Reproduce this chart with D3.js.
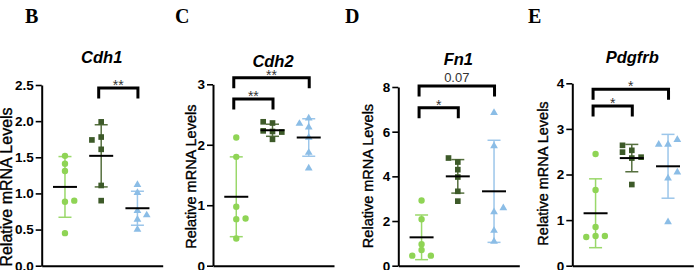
<!DOCTYPE html>
<html>
<head>
<meta charset="utf-8">
<title>Relative mRNA Levels</title>
<script src="https://d3js.org/d3.v7.min.js"></script>
<style>
  body { margin: 0; background: #fff; }
  svg { display: block; }
  text { font-family: "Liberation Sans", Arial, sans-serif; }
</style>
</head>
<body>
<svg width="694" height="270"></svg>
<script>
// ---- data ----
const panelLetters = ["B", "C", "D", "E"];
const genes = ["Cdh1", "Cdh2", "Fn1", "Pdgfrb"];
const groups = ["g1", "g2", "g3"];
const yMax = [2.5, 3, 8, 4];
const yTickStep = [0.5, 1, 2, 1];
const yTickFormat = [".1f", "d", "d", "d"];

// points per group (light green, dark green, light blue)
const cdh1Values = [[1.52, 1.41, 1.31, 0.885, 0.90, 0.45], [1.99, 1.78, 1.74, 1.61, 1.11, 0.90], [1.12, 1.01, 0.76, 0.70, 0.64, 0.50]];
const cdh2Values = [[2.12, 1.80, 0.975, 0.77, 0.78, 0.45], [2.38, 2.36, 2.23, 2.22, 2.21, 2.09], [2.35, 2.44, 2.29, 2.12, 1.87, 1.61]];
const fn1Values = [[2.92, 2.08, 0.96, 0.70, 0.45, 0.45], [4.82, 4.64, 4.30, 3.97, 3.33, 2.89], [6.85, 5.36, 2.58, 2.40, 1.57, 1.08]];
const pdgfrbValues = [[2.45, 1.66, 0.85, 0.65, 0.63, 0.65], [2.64, 2.49, 2.53, 2.36, 2.38, 1.78], [2.66, 2.66, 2.76, 1.92, 2.05, 0.96]];

// scatter column of each point (-1 left, 0 centre, 1 right)
const cdh1Cols = [[0, 0, 0, 0, 1, 0], [0, 0, -1, 0, 0, 0], [0, 0, 0, 1, 0, 0]];
const cdh2Cols = [[0, 0, 0, 0, 1, 0], [-1, 0, -1, 0, 1, 0], [-1, 0, 0, 0, 0, 0]];
const fn1Cols = [[0, 0, 0, 0, -1, 1], [-1, 0, 0, 0, 0, 0], [0, 0, 1, 0, 0, 0]];
const pdgfrbCols = [[0, 0, 0, 0, -1, 1], [-1, -1, 0, 0, 1, 0], [-1, 0, 1, 0, 1, 0]];

// mean and SD
const cdh1Mean = [1.09, 1.52, 0.795], cdh1Sd = [0.42, 0.43, 0.235];
const cdh2Mean = [1.14, 2.24, 2.12], cdh2Sd = [0.66, 0.10, 0.31];
const fn1Mean = [1.27, 4.0, 3.33], fn1Sd = [1.0, 0.75, 2.285];
const pdgfrbMean = [1.15, 2.36, 2.18], pdgfrbSd = [0.755, 0.30, 0.70];

// significance brackets: [from group, to group, height, label]
const cdh1Sig = [[1, 2, 2.46, "**"]];
const cdh2Sig = [[0, 1, 2.755, "**"], [0, 2, 3.11, "**"]];
const fn1Sig = [[0, 1, 7.07, "*"], [0, 2, 8.04, "0.07"]];
const pdgfrbSig = [[0, 1, 3.50, "*"], [0, 2, 3.87, "*"]];

const allValues = [cdh1Values, cdh2Values, fn1Values, pdgfrbValues];
const allCols = [cdh1Cols, cdh2Cols, fn1Cols, pdgfrbCols];
const allMean = [cdh1Mean, cdh2Mean, fn1Mean, pdgfrbMean];
const allSd = [cdh1Sd, cdh2Sd, fn1Sd, pdgfrbSd];
const allSig = [cdh1Sig, cdh2Sig, fn1Sig, pdgfrbSig];

// ---- layout ----
const axisLeft = [41.7, 213, 398.3, 572.3];
const axisTop = [85, 84.3, 87, 83.3];
const axisBottom = 265.7;
const plotW = 121;
const letterX = [25, 175, 345, 528];
const titleY = [62.7, 66.5, 65, 63.3];
const ylabX = [11.7, 195.5, 373.3, 548.3];
const ylabY = [187, 176.7, 176, 173.5];
const ylabSize = [16, 14.5, 14.5, 14.5];

const fillColors = ["#8fd455", "#3d5a29", "#8bbde6"];
const lineColors = ["#9ad86a", "#56703f", "#9cc6ea"];
const symbols = [d3.symbolCircle, d3.symbolSquare, d3.symbolTriangle];
const symSize = [32, 32, 26];
const jitter = 9.3;

const svg = d3.select("svg");

panelLetters.forEach((letter, p) => {
  const g = svg.append("g").attr("transform", `translate(${axisLeft[p]},0)`);

  const x = d3.scaleBand().domain(groups).range([0, plotW]).paddingOuter(0.17).paddingInner(0);
  const cx = i => x(groups[i]) + x.bandwidth() / 2 - 1;
  const y = d3.scaleLinear().domain([0, yMax[p]]).range([axisBottom, axisTop[p]]);

  // panel letter
  svg.append("text")
    .attr("x", letterX[p]).attr("y", 23)
    .style("font-family", '"Liberation Serif", "Times New Roman", serif')
    .style("font-weight", "bold").style("font-size", "20px")
    .text(letter);

  // gene title
  g.append("text")
    .attr("x", plotW / 2 - 0.5).attr("y", titleY[p])
    .attr("text-anchor", "middle")
    .style("font-style", "italic").style("font-weight", "bold").style("font-size", "16.5px")
    .text(genes[p]);

  // y label
  svg.append("text")
    .attr("transform", `translate(${ylabX[p]},${ylabY[p]}) rotate(-90)`)
    .attr("text-anchor", "middle")
    .attr("stroke", "#000").attr("stroke-width", 0.35)
    .style("font-size", ylabSize[p] + "px")
    .text("Relative mRNA Levels");

  // axes
  const ticks = d3.range(0, yMax[p] + 1e-9, yTickStep[p]);
  const yAxis = g.append("g")
    .call(d3.axisLeft(y).tickValues(ticks).tickFormat(d3.format(yTickFormat[p])).tickSize(6).tickPadding(2).tickSizeOuter(0));
  yAxis.select(".domain").attr("stroke", "#000").attr("stroke-width", 2);
  yAxis.selectAll(".tick line").attr("stroke", "#000").attr("stroke-width", 1.6);
  yAxis.selectAll(".tick text")
    .style("font-family", '"Liberation Sans", Arial, sans-serif')
    .style("font-weight", "bold").style("font-size", "13.5px").attr("fill", "#000");

  const xAxis = g.append("g").attr("transform", `translate(0,${axisBottom})`)
    .call(d3.axisBottom(x).tickSize(0).tickFormat("").tickSizeOuter(0));
  xAxis.select(".domain").attr("stroke", "#000").attr("stroke-width", 2);

  // SD bars
  groups.forEach((grp, i) => {
    const m = allMean[p][i], s = allSd[p][i], c = cx(i);
    g.append("line")
      .attr("x1", c).attr("x2", c).attr("y1", y(m - s)).attr("y2", y(m + s))
      .attr("stroke", lineColors[i]).attr("stroke-width", 1.5);
    [m - s, m + s].forEach(v => {
      g.append("line")
        .attr("x1", c - 6.5).attr("x2", c + 6.5).attr("y1", y(v)).attr("y2", y(v))
        .attr("stroke", lineColors[i]).attr("stroke-width", 1.5);
    });
  });

  // points
  groups.forEach((grp, i) => {
    g.selectAll(null)
      .data(allValues[p][i].map((v, k) => ({ v, col: allCols[p][i][k] })))
      .enter().append("path")
      .attr("d", d3.symbol().type(symbols[i]).size(symSize[i]))
      .attr("transform", d => `translate(${cx(i) + d.col * jitter},${y(d.v)})`)
      .attr("fill", fillColors[i]);
  });

  // mean lines
  groups.forEach((grp, i) => {
    const c = cx(i), m = allMean[p][i];
    g.append("line")
      .attr("x1", c - 12).attr("x2", c + 12).attr("y1", y(m)).attr("y2", y(m))
      .attr("stroke", "#000").attr("stroke-width", 2);
  });

  // significance brackets
  allSig[p].forEach(([a, b, h, lab]) => {
    const x1 = cx(a) - 2.5, x2 = cx(b) + 0.5, yy = y(h);
    g.append("path")
      .attr("d", `M${x1},${yy + 10.5}V${yy}H${x2}V${yy + 10.5}`)
      .attr("fill", "none").attr("stroke", "#000").attr("stroke-width", 3);
    const isStar = lab.includes("*");
    g.append("text")
      .attr("x", (x1 + x2) / 2).attr("y", isStar ? yy + 2 : yy - 4.5)
      .attr("text-anchor", "middle")
      .attr("fill", "#333")
      .style("font-size", isStar ? "14px" : "13px")
      .text(lab);
  });
});
</script>
</body>
</html>
